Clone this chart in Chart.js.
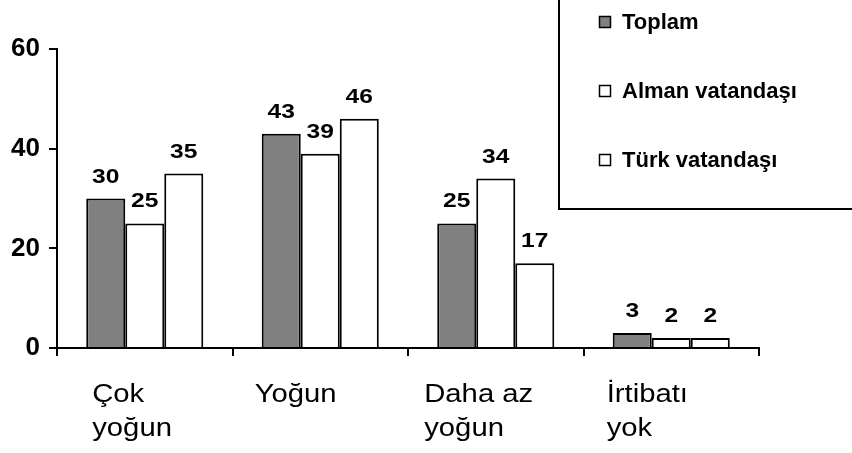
<!DOCTYPE html>
<html lang="tr">
<head>
<meta charset="utf-8">
<title>Yoğunluk</title>
<script src="https://cdn.jsdelivr.net/npm/chart.js@4/dist/chart.umd.min.js"></script>
<style>
    html, body { margin: 0; padding: 0; background: #fff; }
    #wrap { width: 852px; height: 453px; position: relative; }
</style>
</head>
<body>
<div id="wrap"><canvas id="chart"></canvas></div>
<script>
// 数据
const categories = [['Çok', 'yoğun'], ['Yoğun'], ['Daha az', 'yoğun'], ['İrtibatı', 'yok']];
const toplam = [30, 43, 25, 3];
const alman = [25, 39, 34, 2];
const turk = [35, 46, 17, 2];
const seriesNames = ['Toplam', 'Alman vatandaşı', 'Türk vatandaşı'];
const yTicks = [0, 20, 40, 60];

const FONT = '"Liberation Sans", Arial, sans-serif';
// 原图文字略微横向拉伸
const STRETCH = 1.17;
// x轴标签相对柱组左边缘的微调
const labelNudge = [6, -7, -13, -6];

// 横向拉伸写字
function wideText(ctx, text, x, y, align) {
    ctx.save();
    ctx.translate(x, y);
    ctx.scale(STRETCH, 1);
    ctx.textAlign = align;
    ctx.fillText(text, 0, 0);
    ctx.restore();
}

// 柱顶数值
const valueLabels = {
    id: 'valueLabels',
    afterDatasetsDraw(chart) {
        const ctx = chart.ctx;
        ctx.save();
        ctx.font = 'bold 21px ' + FONT;
        ctx.fillStyle = '#000';
        ctx.textBaseline = 'alphabetic';
        chart.data.datasets.forEach((ds, i) => {
            chart.getDatasetMeta(i).data.forEach((bar, j) => {
                wideText(ctx, String(ds.data[j]), bar.x, bar.y - 16, 'center');
            });
        });
        ctx.restore();
    }
};

// x轴标签（左对齐，多行）
const xLabels = {
    id: 'xLabels',
    afterDraw(chart) {
        const ctx = chart.ctx;
        const meta = chart.getDatasetMeta(0);
        const bottom = chart.chartArea.bottom;
        ctx.save();
        ctx.font = '25px ' + FONT;
        ctx.fillStyle = '#000';
        ctx.textBaseline = 'alphabetic';
        categories.forEach((lines, i) => {
            const bar = meta.data[i];
            const left = bar.x - bar.width / 2 + labelNudge[i];
            lines.forEach((t, k) => {
                wideText(ctx, t, left, bottom + 54 + k * 34, 'left');
            });
        });
        ctx.restore();
    }
};

// 图例框
const boxLegend = {
    id: 'boxLegend',
    afterDraw(chart) {
        const ctx = chart.ctx;
        ctx.save();
        ctx.strokeStyle = '#000';
        ctx.lineWidth = 2;
        ctx.fillStyle = '#fff';
        ctx.fillRect(559, -4, 300, 213);
        ctx.strokeRect(559, -4, 300, 213);
        ctx.font = 'bold 22px ' + FONT;
        ctx.textAlign = 'left';
        ctx.textBaseline = 'middle';
        chart.data.datasets.forEach((ds, i) => {
            const cy = 22 + i * 69;
            ctx.fillStyle = ds.backgroundColor;
            ctx.fillRect(599.5, cy - 5.5, 11, 11);
            ctx.lineWidth = 1.5;
            ctx.strokeRect(599.5, cy - 5.5, 11, 11);
            ctx.fillStyle = '#000';
            ctx.fillText(ds.label, 622, cy + 1);
        });
        ctx.restore();
    }
};

const ctx = document.getElementById('chart');
new Chart(ctx, {
    type: 'bar',
    data: {
        labels: categories.map(l => l.join(' ')),
        datasets: [
            { label: seriesNames[0], data: toplam, backgroundColor: '#808080' },
            { label: seriesNames[1], data: alman, backgroundColor: '#ffffff' },
            { label: seriesNames[2], data: turk, backgroundColor: '#ffffff' }
        ]
    },
    options: {
        responsive: true,
        maintainAspectRatio: false,
        animation: false,
        layout: { padding: { top: 49, right: 93, left: 0, bottom: 0 } },
        datasets: {
            bar: {
                borderColor: '#000',
                borderWidth: 2,
                categoryPercentage: 0.667,
                barPercentage: 1.0
            }
        },
        plugins: {
            legend: { display: false },
            tooltip: { enabled: false }
        },
        scales: {
            x: {
                offset: true,
                grid: {
                    offset: true,
                    drawOnChartArea: false,
                    drawTicks: true,
                    tickLength: 8,
                    color: '#000',
                    lineWidth: 2
                },
                border: { display: true, color: '#000', width: 2 },
                ticks: { display: false },
                afterFit(scale) { scale.height = 105; }
            },
            y: {
                min: 0,
                max: 60,
                afterBuildTicks(scale) { scale.ticks = yTicks.map(v => ({ value: v })); },
                grid: {
                    drawOnChartArea: false,
                    drawTicks: true,
                    tickLength: 8,
                    color: '#000',
                    lineWidth: 2
                },
                border: { display: true, color: '#000', width: 2 },
                ticks: {
                    color: '#000',
                    padding: 9,
                    font: { family: FONT, size: 26, weight: 'bold' }
                },
                afterFit(scale) { scale.width = 57; }
            }
        }
    },
    plugins: [valueLabels, xLabels, boxLegend]
});
</script>
</body>
</html>
